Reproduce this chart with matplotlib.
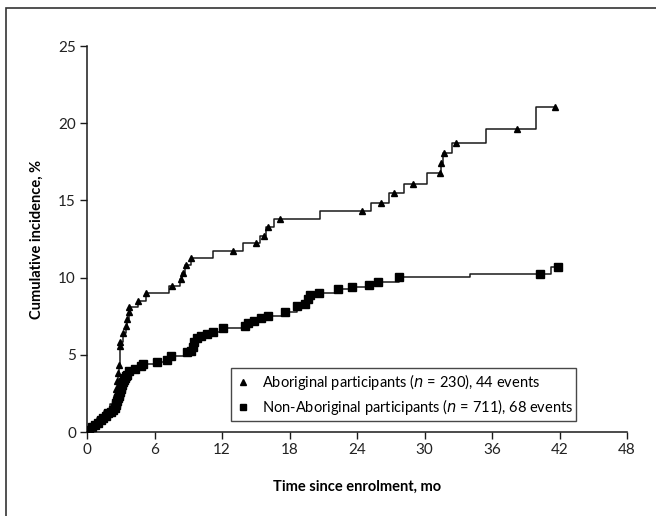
import matplotlib
matplotlib.use("Agg")
import matplotlib.pyplot as plt
from matplotlib.patches import Rectangle
from matplotlib.lines import Line2D

plt.rcParams['font.family'] = ['Lato', 'DejaVu Sans']

# Aboriginal participants: step curve (time, cumulative %)
abo_t = [0, 0.4, 0.9, 1.5, 2.0, 2.4, 2.6, 2.7, 2.78, 2.85, 2.9, 2.93, 2.95, 3.17, 3.44, 3.53,
         3.7, 3.76, 4.5, 5.2, 7.3, 8.3, 8.45, 8.7, 9.2, 11.2, 13.9, 15.4, 15.9, 16.6, 20.7,
         25.2, 26.8, 28.2, 30.2, 31.45, 31.6, 32.4, 35.5, 39.9, 41.6]
abo_v = [0, 0.45, 0.9, 1.35, 1.8, 2.3, 2.8, 3.3, 3.8, 4.3, 4.8, 5.3, 5.85, 6.4, 6.85, 7.3,
         7.8, 8.1, 8.5, 9.0, 9.45, 9.9, 10.3, 10.8, 11.25, 11.7, 12.25, 12.7, 13.25, 13.8, 14.3,
         14.85, 15.45, 16.05, 16.8, 17.45, 18.05, 18.75, 19.65, 21.05, 21.05]
# Aboriginal markers
abo_mt = [2.6, 2.7, 2.78, 2.87, 2.93, 2.93, 3.17, 3.44, 3.53, 3.76, 3.76, 4.56, 5.24, 7.58,
          8.36, 8.5, 8.8, 9.24, 13.0, 15.0, 15.7, 16.06, 17.15, 24.4, 26.1, 27.3, 29.0,
          31.4, 31.5, 31.7, 32.8, 38.25, 41.6]
abo_mv = [2.8, 3.3, 3.8, 4.34, 5.6, 5.85, 6.4, 6.85, 7.3, 7.8, 8.1, 8.5, 9.0, 9.45,
          9.9, 10.3, 10.8, 11.25, 11.7, 12.25, 12.7, 13.25, 13.8, 14.3, 14.85, 15.45, 16.05,
          16.8, 17.45, 18.05, 18.75, 19.65, 21.05]

# Non-Aboriginal participants: step curve (time, cumulative %)
non_t = [0, 0.2, 0.45, 0.71, 0.95, 1.2, 1.45, 1.7, 1.9, 2.1, 2.34, 2.45, 2.55, 2.62, 2.68,
         2.74, 2.8, 2.86, 2.92, 2.98, 3.04, 3.1, 3.18, 3.26, 3.35, 3.44, 3.53, 3.76, 4.27,
         4.77, 5.0, 6.25, 7.1, 7.5, 8.86, 9.2, 9.4, 9.5, 9.75, 10.1, 10.7, 11.2, 12.06, 14.0,
         14.3, 14.8, 15.5, 16.1, 17.6, 18.7, 19.4, 19.6, 19.8, 20.6, 22.3, 23.55, 25.1,
         25.9, 27.7, 34.0, 41.2, 41.9]
non_v = [0, 0.15, 0.3, 0.45, 0.6, 0.75, 0.89, 1.05, 1.21, 1.3, 1.42, 1.57, 1.72, 1.87, 2.02,
         2.17, 2.32, 2.47, 2.62, 2.77, 2.92, 3.07, 3.22, 3.37, 3.52, 3.62, 3.69, 3.97, 4.06,
         4.27, 4.38, 4.51, 4.66, 4.94, 5.16, 5.25, 5.52, 5.81, 6.07, 6.24, 6.35, 6.5, 6.76, 6.87,
         7.04, 7.21, 7.36, 7.53, 7.8, 8.16, 8.29, 8.6, 8.87, 9.02, 9.26, 9.37, 9.52,
         9.7, 10.04, 10.23, 10.67, 10.67]
# Non-Aboriginal markers
non_mt = [0.05, 0.2, 0.45, 0.71, 0.95, 1.2, 1.45, 1.7, 1.9, 2.1, 2.34, 2.45, 2.55, 2.62, 2.68,
          2.74, 2.8, 2.86, 2.92, 2.98, 3.04, 3.1, 3.18, 3.26, 3.35, 3.44, 3.53, 3.76, 4.27,
          4.77, 5.0, 6.25, 7.1, 7.5, 8.86, 9.2, 9.4, 9.5, 9.75, 10.1, 10.7, 11.2, 12.06, 14.0,
          14.3, 14.8, 15.5, 16.1, 17.6, 18.7, 19.4, 19.6, 19.8, 20.6, 22.3, 23.55, 25.1,
          25.9, 27.7, 40.3, 41.9]
non_mv = [0.05, 0.15, 0.3, 0.45, 0.6, 0.75, 0.89, 1.05, 1.21, 1.3, 1.42, 1.57, 1.72, 1.87, 2.02,
          2.17, 2.32, 2.47, 2.62, 2.77, 2.92, 3.07, 3.22, 3.37, 3.52, 3.62, 3.69, 3.97, 4.06,
          4.27, 4.38, 4.51, 4.66, 4.94, 5.16, 5.25, 5.52, 5.81, 6.07, 6.24, 6.35, 6.5, 6.76, 6.87,
          7.04, 7.21, 7.36, 7.53, 7.8, 8.16, 8.29, 8.6, 8.87, 9.02, 9.26, 9.37, 9.52,
          9.7, 10.04, 10.23, 10.67]

x_ticks = [0, 6, 12, 18, 24, 30, 36, 42, 48]
y_ticks = [0, 5, 10, 15, 20, 25]
abo_label = 'Aboriginal participants ($\\mathit{n}$ = 230), 44 events'
non_label = 'Non-Aboriginal participants ($\\mathit{n}$ = 711), 68 events'

fig = plt.figure(figsize=(6.56, 5.16), dpi=100)
ax = fig.add_axes([87/656, 1-432/516, 540/656, 386/516])

lc = '#1a1a1a'
ax.step(abo_t, abo_v, where='post', color=lc, lw=1.1, zorder=3)
ax.plot(abo_mt, abo_mv, ls='none', marker='^', ms=4.6, color='black', zorder=4)
ax.step(non_t, non_v, where='post', color=lc, lw=1.1, zorder=3)
ax.plot(non_mt, non_mv, ls='none', marker='s', ms=5.3, color='black', zorder=4)

ax.set_xlim(0, 48)
ax.set_ylim(0, 25)
ax.set_xticks(x_ticks)
ax.set_yticks(y_ticks)
for s in ['top', 'right']:
    ax.spines[s].set_visible(False)
for s in ['left', 'bottom']:
    ax.spines[s].set_linewidth(1.1)
    ax.spines[s].set_color('#1a1a1a')
ax.tick_params(direction='out', length=5, width=1.0, labelsize=11, pad=3, color='#1a1a1a')
for lab in ax.get_xticklabels() + ax.get_yticklabels():
    lab.set_color('#222222')

ax.set_xlabel('Time since enrolment, mo', fontsize=10.5, fontweight='bold', labelpad=16)
ax.set_ylabel('Cumulative incidence, %', fontsize=10.5, fontweight='bold', labelpad=10)

handles = [Line2D([], [], ls='none', marker='^', ms=4, color='black'),
           Line2D([], [], ls='none', marker='s', ms=4, color='black')]
leg = ax.legend(handles, [abo_label, non_label], loc='lower left',
                bbox_to_anchor=((231-87)/540, (432-421)/386, (576-231)/540, (421-370.7)/386),
                mode='expand', fontsize=10.5, frameon=True, fancybox=False,
                borderpad=0.3, handlelength=1.0, handletextpad=0.8, labelspacing=0.3,
                borderaxespad=0)
leg.get_frame().set_edgecolor('#1a1a1a')
leg.get_frame().set_linewidth(1.0)

frame = Rectangle((6/656, -0.2), 1.2, 1.2 - 8/516, transform=fig.transFigure,
                  fill=False, edgecolor='#333333', lw=1.2, clip_on=False)
fig.patches.append(frame)

fig.savefig('out.png', dpi=100)
